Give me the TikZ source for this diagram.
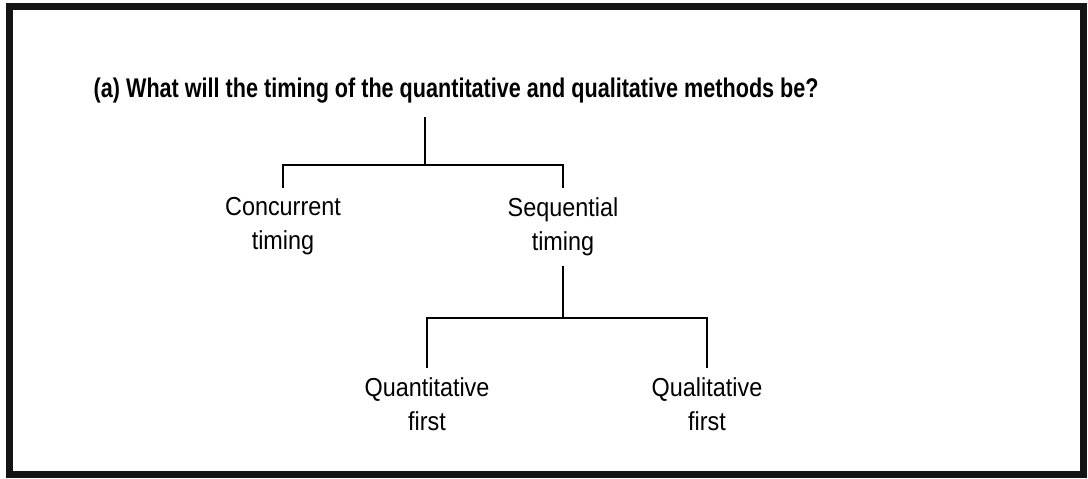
\documentclass[tikz,border=0pt]{standalone}
\usepackage{fontspec}
\setmainfont{Liberation Sans}[FakeStretch=0.9]
\newfontfamily\titrefont{Liberation Sans}[FakeStretch=0.8]
\usepackage{tikz}
\usetikzlibrary{positioning}
\definecolor{cadrenoir}{RGB}{20,20,20}

\begin{document}
\begin{tikzpicture}[x=0.5pt, y=-0.5pt, line width=0.75pt,
    choix/.style={align=center, inner sep=4.5pt, font=\fontsize{13}{17}\selectfont}]
  \useasboundingbox (0,0) rectangle (1088,478);
  % cadre
  \draw[cadrenoir, line width=3.5pt] (9,6) rectangle (1083,474);
  % la question
  \node[anchor=base west, inner xsep=0pt, inner ysep=7pt,
        font=\titrefont\bfseries\fontsize{13.5}{16}\selectfont] (question) at (93,97)
    {(a) What will the timing of the quantitative and qualitative methods be?};
  % premier niveau
  \coordinate (j1) at (425,165);
  \node[choix, anchor=north] (concurrent) at (283,188) {Concurrent\\timing};
  \node[choix, anchor=north] (sequential) at (563,188) {Sequential\\timing};
  % second niveau
  \coordinate (j2) at (565,318);
  \node[choix, anchor=north] (quanti) at (427,368) {Quantitative\\first};
  \node[choix, anchor=north] (quali) at (707,368) {Qualitative\\first};
  % liens
  \draw (question.south -| j1) -- (j1);
  \draw (concurrent.north) |- (j1) -| (sequential.north);
  \draw (sequential.south) -- (sequential.south |- j2);
  \draw (quanti.north) |- (j2) -| (quali.north);
\end{tikzpicture}
\end{document}
